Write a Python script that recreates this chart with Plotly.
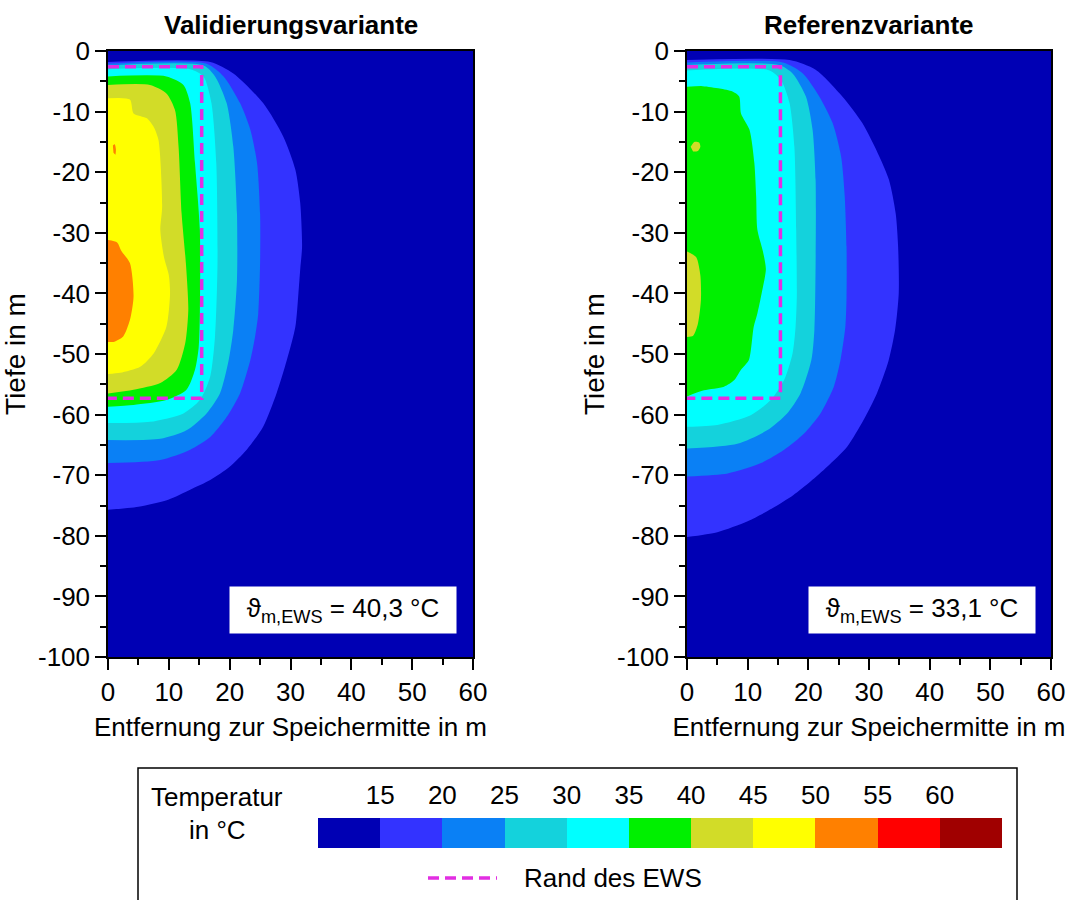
import plotly.graph_objects as go

# ---------------------------------------------------------------------------
# Temperature bands (°C) and their colours
# ---------------------------------------------------------------------------
BAND_COLORS = ["#0000B4", "#3333FF", "#0A80F5", "#14D2DC", "#00FFFF", "#00F000",
               "#D2DC28", "#FFFF00", "#FF8000", "#FF0000", "#A00000"]
LEGEND_TICKS = [15, 20, 25, 30, 35, 40, 45, 50, 55, 60]

DIST_TICKS = [0, 10, 20, 30, 40, 50, 60]
DEPTH_TICKS = [0, -10, -20, -30, -40, -50, -60, -70, -80, -90, -100]
DEPTH_LABELS = ["0", "-10", "-20", "-30", "-40", "-50", "-60", "-70", "-80", "-90", "-100"]

# Boundary of the borehole heat exchanger field (Rand des EWS)
EWS_RADIUS = 15.4
EWS_TOP = -2.6
EWS_BOTTOM = -57.3

# ---------------------------------------------------------------------------
# Validierungsvariante: outlines of the regions T >= level
# (x = distance from storage centre in m, y = depth in m)
# ---------------------------------------------------------------------------
val_x_15 = [0, 16.8, 20.6, 25.5, 28.8, 30.8, 31.6, 31.9, 31.6, 31.3, 30.8, 29.4, 27.7, 25.5, 22.8, 20.0, 16.8, 13.5, 10.0, 5.0, 0]
val_y_15 = [-1.8, -1.8, -3.7, -8.6, -14.1, -19.6, -25.1, -32.3, -36.0, -40.0, -45.5, -51.0, -56.5, -62.0, -65.8, -68.6, -70.8, -72.4, -74.0, -75.2, -75.7]

val_x_20 = [0, 16.2, 19.0, 21.7, 23.4, 24.5, 25.0, 25.0, 24.7, 24.2, 23.4, 21.7, 19.5, 16.8, 13.5, 8.6, 0]
val_y_20 = [-2.1, -2.1, -4.2, -8.6, -13.0, -18.5, -26.8, -35.0, -43.3, -47.0, -51.0, -56.5, -60.4, -63.7, -65.8, -67.5, -68.0]

val_x_25 = [0, 15.7, 17.6, 19.5, 20.6, 21.2, 21.2, 20.6, 19.8, 18.4, 16.2, 12.9, 8.6, 0]
val_y_25 = [-2.4, -2.4, -4.2, -8.6, -15.8, -26.8, -37.8, -46.0, -51.2, -56.5, -59.8, -62.6, -64.0, -64.2]

val_x_30 = [0, 13.5, 15.7, 17.0, 17.8, 18.0, 17.6, 16.8, 15.1, 12.4, 6.9, 0]
val_y_30 = [-3.0, -3.0, -4.2, -8.6, -18.5, -35.0, -47.0, -53.7, -57.6, -59.8, -61.2, -61.4]

val_x_35 = [0, 9.6, 12.4, 13.5, 14.3, 15.1, 15.1, 14.9, 14.3, 12.9, 9.6, 4.2, 0]
val_y_35 = [-4.2, -4.2, -5.6, -8.6, -18.5, -29.5, -43.3, -49.0, -52.6, -55.9, -57.6, -58.4, -58.7]

val_x_40 = [0, 6.9, 9.6, 11.0, 11.6, 12.1, 12.8, 13.2, 12.7, 11.3, 8.6, 4.2, 0]
val_y_40 = [-5.6, -5.6, -7.0, -9.7, -15.8, -26.8, -35.0, -42.7, -48.2, -52.6, -54.8, -55.9, -56.5]

val_x_45 = [0, 3.6, 4.2, 6.4, 7.5, 8.3, 8.9, 8.6, 9.2, 10.0, 10.2, 9.6, 7.5, 5.3, 2.0, 0]
val_y_45 = [-7.8, -8.0, -10.3, -11.1, -12.5, -14.7, -25.7, -29.5, -34.0, -37.0, -40.0, -45.5, -49.9, -52.1, -53.1, -53.3]

val_x_50 = [0, 1.5, 2.2, 3.6, 4.2, 3.6, 2.5, 0.9, 0]
val_y_50 = [-31.2, -31.6, -33.0, -35.0, -40.5, -44.4, -47.1, -48.0, -48.0]

val_x_50_spot = [0.8, 1.1, 1.3, 1.2, 0.9]
val_y_50_spot = [-15.6, -15.4, -16.2, -17.1, -16.8]

# ---------------------------------------------------------------------------
# Referenzvariante: outlines of the regions T >= level
# ---------------------------------------------------------------------------
ref_x_15 = [0, 16.9, 21.2, 25.6, 28.9, 31.7, 33.3, 34.4, 34.8, 34.9, 34.3, 33.2, 31.3, 29.1, 26.4, 23.1, 20.4, 17.5, 14.0, 10.0, 5.0, 0]
ref_y_15 = [-1.5, -1.5, -3.1, -7.5, -11.9, -17.4, -21.3, -26.8, -32.3, -40.0, -46.0, -51.2, -56.5, -60.9, -65.3, -68.6, -71.0, -73.3, -75.5, -77.6, -79.4, -80.2]

ref_x_20 = [0, 15.8, 19.1, 21.8, 24.0, 25.4, 26.0, 26.3, 26.3, 26.1, 25.3, 24.2, 22.0, 19.3, 16.0, 12.2, 6.7, 0]
ref_y_20 = [-1.9, -1.9, -3.7, -7.5, -11.9, -17.4, -24.0, -32.3, -40.5, -45.5, -51.0, -55.4, -59.8, -63.1, -65.8, -68.0, -69.7, -70.2]

ref_x_25 = [0, 15.2, 17.4, 19.6, 20.7, 21.2, 21.2, 21.0, 20.5, 18.7, 16.5, 13.2, 8.3, 0]
ref_y_25 = [-2.3, -2.3, -3.7, -7.5, -13.0, -21.3, -35.0, -46.0, -51.0, -56.5, -59.8, -62.6, -64.8, -65.6]

ref_x_30 = [0, 13.6, 15.5, 16.9, 17.7, 18.0, 18.1, 17.9, 17.4, 16.0, 13.8, 10.5, 5.0, 0]
ref_y_30 = [-3.2, -3.2, -4.8, -8.6, -15.8, -29.5, -40.5, -45.5, -49.9, -54.3, -57.6, -60.1, -61.7, -62.0]

ref_x_35 = [0, 2.6, 5.4, 7.5, 8.6, 8.9, 10.3, 11.1, 11.4, 11.6, 12.5, 13.0, 12.3, 11.6, 11.0, 10.2, 8.9, 7.8, 6.1, 2.8, 0]
ref_y_35 = [-5.9, -5.8, -6.2, -6.7, -7.5, -10.3, -13.0, -18.5, -24.0, -29.5, -33.0, -36.0, -40.0, -43.3, -45.5, -51.0, -52.6, -54.3, -55.4, -56.0, -57.0]

ref_x_40 = [0, 1.5, 2.2, 2.3, 1.8, 1.0, 0]
ref_y_40 = [-33.1, -34.0, -37.0, -41.0, -45.0, -47.0, -47.2]

ref_x_40_spot = [0.6, 1.2, 2.0, 2.2, 1.8, 1.0]
ref_y_40_spot = [-15.8, -15.0, -15.1, -15.8, -16.5, -16.6]

# Mean temperature of the heat exchanger volume
MEAN_TEMPS = ["40,3", "33,1"]
TITLES = ["Validierungsvariante", "Referenzvariante"]

FONT = "Liberation Sans, Arial, Helvetica, sans-serif"
MAGENTA = "#E22EE2"

fig = go.Figure()


def add_region(xs, ys, band, axis_no):
    """Filled outline of a temperature region, coloured by its band index."""
    suffix = "" if axis_no == 1 else str(axis_no)
    fig.add_trace(go.Scatter(
        x=xs, y=ys, mode="lines", fill="toself",
        fillcolor=BAND_COLORS[band],
        line=dict(width=0, color=BAND_COLORS[band], shape="spline", smoothing=0.7),
        hoverinfo="skip", showlegend=False,
        xaxis="x" + suffix, yaxis="y" + suffix,
    ))


val_regions = [
    (val_x_15, val_y_15, 1), (val_x_20, val_y_20, 2), (val_x_25, val_y_25, 3),
    (val_x_30, val_y_30, 4), (val_x_35, val_y_35, 5), (val_x_40, val_y_40, 6),
    (val_x_45, val_y_45, 7), (val_x_50, val_y_50, 8), (val_x_50_spot, val_y_50_spot, 8),
]
ref_regions = [
    (ref_x_15, ref_y_15, 1), (ref_x_20, ref_y_20, 2), (ref_x_25, ref_y_25, 3),
    (ref_x_30, ref_y_30, 4), (ref_x_35, ref_y_35, 5), (ref_x_40, ref_y_40, 6),
    (ref_x_40_spot, ref_y_40_spot, 6),
]

for xs, ys, band in val_regions:
    add_region(xs, ys, band, 1)
for xs, ys, band in ref_regions:
    add_region(xs, ys, band, 2)

# Boundary of the heat exchanger field in both panels
for axis_no in (1, 2):
    suffix = "" if axis_no == 1 else str(axis_no)
    fig.add_trace(go.Scatter(
        x=[0, EWS_RADIUS, EWS_RADIUS, 0],
        y=[EWS_TOP, EWS_TOP, EWS_BOTTOM, EWS_BOTTOM],
        mode="lines", line=dict(color=MAGENTA, width=3.5, dash="11px,6px"),
        hoverinfo="skip", showlegend=False,
        xaxis="x" + suffix, yaxis="y" + suffix,
    ))

# Colour key as a one-row heatmap
n_bands = len(BAND_COLORS)
discrete_scale = []
for i, c in enumerate(BAND_COLORS):
    discrete_scale.append([i / n_bands, c])
    discrete_scale.append([(i + 1) / n_bands, c])
fig.add_trace(go.Heatmap(
    z=[list(range(n_bands))], x=list(range(n_bands)), y=[0],
    colorscale=discrete_scale, zmin=-0.5, zmax=n_bands - 0.5,
    showscale=False, hoverinfo="skip", xaxis="x3", yaxis="y3",
))

W, H = 1077, 900
plot_top, plot_bottom = 51, 657
y_dom = [1 - plot_bottom / H, 1 - plot_top / H]
x_doms = [[108 / W, 473 / W], [687 / W, 1051 / W]]

axis_style = dict(
    showline=True, linecolor="black", linewidth=1.5, mirror=True,
    ticks="outside", ticklen=11, tickwidth=1.5, tickcolor="black",
    showgrid=False, zeroline=False, fixedrange=True, automargin=False,
    tickfont=dict(size=26, color="black", family=FONT),
    minor=dict(ticks="outside", ticklen=6, tickwidth=1.5, tickcolor="black",
               dtick=5, showgrid=False),
)

layout = dict(
    width=W, height=H, margin=dict(l=0, r=0, t=0, b=0, autoexpand=False),
    paper_bgcolor="white", plot_bgcolor=BAND_COLORS[0],
    font=dict(family=FONT, size=26, color="black"),
    showlegend=False,
)
for i, xd in enumerate(x_doms):
    sx = "" if i == 0 else str(i + 1)
    layout["xaxis" + sx] = dict(
        axis_style, domain=xd, range=[0, 60], anchor="y" + sx,
        tickvals=DIST_TICKS,
        title=dict(text="Entfernung zur Speichermitte in m", standoff=12,
                   font=dict(size=26, family=FONT)),
    )
    layout["yaxis" + sx] = dict(
        axis_style, domain=y_dom, range=[-100, 0], anchor="x" + sx,
        tickvals=DEPTH_TICKS, ticktext=DEPTH_LABELS,
        title=dict(text="Tiefe in m", standoff=4, font=dict(size=28, family=FONT)),
    )

# Axes of the colour key
key_left, key_right, key_top, key_bottom = 318, 1002, 818, 848
layout["xaxis3"] = dict(
    domain=[key_left / W, key_right / W], range=[-0.5, n_bands - 0.5], anchor="y3",
    side="top", tickvals=[i + 0.5 for i in range(len(LEGEND_TICKS))],
    ticktext=[str(t) for t in LEGEND_TICKS], ticks="outside", ticklen=3,
    tickcolor="rgba(0,0,0,0)", showline=False, showgrid=False, zeroline=False,
    tickfont=dict(size=26, family=FONT, color="black"), fixedrange=True,
    automargin=False,
)
layout["yaxis3"] = dict(
    domain=[1 - key_bottom / H, 1 - key_top / H], range=[-0.5, 0.5], anchor="x3",
    visible=False, fixedrange=True, automargin=False,
)

annotations = []
for i in range(2):
    sx = "" if i == 0 else str(i + 1)
    annotations.append(dict(
        text="<b>%s</b>" % TITLES[i], xref="x%s domain" % sx, yref="paper",
        x=0.5, y=1 - 25 / H, xanchor="center", yanchor="middle", showarrow=False,
        font=dict(size=26, family=FONT, color="black"),
    ))
    annotations.append(dict(
        text="ϑ<sub>m,EWS</sub> = %s °C" % MEAN_TEMPS[i],
        xref="x%s domain" % sx, yref="y%s domain" % sx,
        x=0.645, y=0.077, xanchor="center", yanchor="middle", showarrow=False,
        bgcolor="white", borderpad=4, width=218, height=38,
        font=dict(size=26, family=FONT, color="black"),
    ))

annotations += [
    dict(text="Temperatur", xref="paper", yref="paper", x=217 / W, y=1 - 797 / H,
         xanchor="center", yanchor="middle", showarrow=False),
    dict(text="in °C", xref="paper", yref="paper", x=217 / W, y=1 - 830 / H,
         xanchor="center", yanchor="middle", showarrow=False),
    dict(text="Rand des EWS", xref="paper", yref="paper", x=522 / W, y=1 - 878 / H,
         xanchor="left", yanchor="middle", showarrow=False),
]
layout["annotations"] = annotations

layout["shapes"] = [
    dict(type="rect", xref="paper", yref="paper", x0=138 / W, x1=1017 / W,
         y0=1 - 768 / H, y1=-0.02, line=dict(color="black", width=1.5),
         fillcolor="rgba(0,0,0,0)", layer="below"),
    dict(type="line", xref="paper", yref="paper", x0=428 / W, x1=497 / W,
         y0=1 - 878 / H, y1=1 - 878 / H,
         line=dict(color=MAGENTA, width=3.5, dash="11px,6px")),
]

fig.update_layout(layout)
fig.write_html("out.html")
